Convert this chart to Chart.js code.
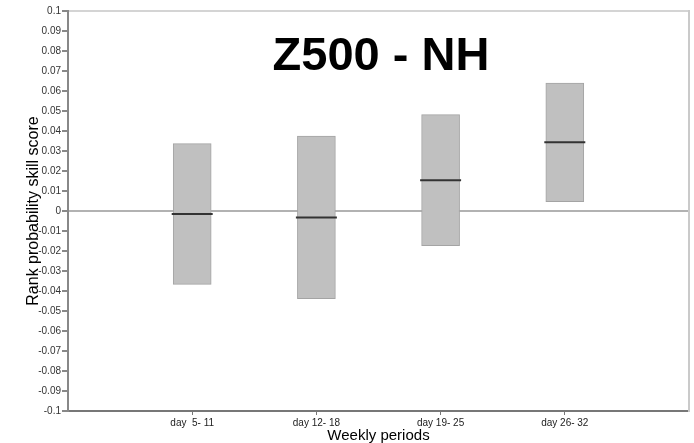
<!DOCTYPE html>
<html>
<head>
<meta charset="utf-8">
<script src="https://cdn.jsdelivr.net/npm/chart.js@4.4.1/dist/chart.umd.min.js"></script>
<style>
  body { margin: 0; background: #fff; }
  canvas { display: block; }
</style>
</head>
<body>
<canvas id="rpss" width="694" height="443"></canvas>
<script>
// weekly periods and skill score ranges
var categories = ['day  5- 11', 'day 12- 18', 'day 19- 25', 'day 26- 32'];
var lowValues = [-0.0367, -0.0438, -0.0173, 0.0047];
var highValues = [0.0337, 0.0375, 0.0482, 0.0639];
var meanValues = [-0.0015, -0.0032, 0.0154, 0.0344];
var yMin = -0.1, yMax = 0.1, yStep = 0.01;

Chart.defaults.font.family = '"Liberation Sans", Arial, sans-serif';

var boxes = categories.map(function (c, i) {
    return { x: i + 1, y: [lowValues[i], highValues[i]] };
});
var means = categories.map(function (c, i) {
    return { x: i + 1, y: meanValues[i] };
});

// big title inside the plot
var titlePlugin = {
    id: 'bigTitle',
    afterDraw: function (chart) {
        var ctx = chart.ctx;
        ctx.save();
        ctx.font = 'bold 47px "Liberation Sans", Arial, sans-serif';
        ctx.fillStyle = '#000';
        ctx.textAlign = 'center';
        ctx.textBaseline = 'alphabetic';
        ctx.fillText('Z500 - NH', 381, 70);
        ctx.restore();
    }
};

var config = {
    type: 'bar',
    data: {
        datasets: [{
            type: 'line',
            data: means,
            showLine: false,
            pointStyle: 'line',
            pointRadius: 20.5,
            pointBorderWidth: 2,
            pointBorderColor: '#333',
            order: 0
        }, {
            type: 'bar',
            data: boxes,
            backgroundColor: '#c0c0c0',
            borderColor: '#a4a4a4',
            borderWidth: 1,
            borderSkipped: false,
            barThickness: 38,
            order: 1
        }]
    },
    options: {
        responsive: false,
        animation: false,
        layout: { autoPadding: false, padding: { top: 11, right: 5, left: 0, bottom: 0 } },
        plugins: { legend: { display: false }, tooltip: { enabled: false } },
        scales: {
            x: {
                type: 'linear',
                min: 0,
                max: 5,
                offset: false,
                afterBuildTicks: function (axis) {
                    axis.ticks = categories.map(function (c, i) { return { value: i + 1 }; });
                },
                afterFit: function (s) {
                    s.height = 32;
                    s.paddingLeft = 0;
                    s.paddingRight = 0;
                },
                ticks: {
                    autoSkip: false,
                    maxRotation: 0,
                    padding: 2,
                    color: '#222',
                    font: { size: 10 },
                    callback: function (v, i) { return categories[i]; }
                },
                grid: { offset: false, drawOnChartArea: false, tickLength: 4, color: '#777' },
                border: { color: '#777', width: 2 },
                title: {
                    display: true,
                    text: 'Weekly periods',
                    color: '#000',
                    font: { size: 15, lineHeight: 1 },
                    padding: { top: 0, bottom: 0 }
                }
            },
            y: {
                min: yMin,
                max: yMax,
                z: 1,
                afterFit: function (s) {
                    s.width = 68;
                    s.paddingTop = 0;
                    s.paddingBottom = 0;
                },
                ticks: {
                    stepSize: yStep,
                    autoSkip: false,
                    padding: 1,
                    color: '#333',
                    font: { size: 10 },
                    callback: function (v) { return parseFloat(v.toFixed(2)).toString(); }
                },
                grid: {
                    tickLength: 6,
                    tickColor: '#888',
                    lineWidth: 2,
                    color: function (ctx) {
                        var v = ctx.tick ? ctx.tick.value : null;
                        if (v === null) return 'rgba(0,0,0,0)';
                        if (Math.abs(v) < 1e-9) return 'rgba(0,0,0,0.3)';
                        if (Math.abs(v - yMax) < 1e-9) return '#d4d4d4';
                        return 'rgba(0,0,0,0)';
                    }
                },
                border: { color: '#888', width: 2 },
                title: {
                    display: true,
                    text: 'Rank probability skill score',
                    color: '#000',
                    font: { size: 16, lineHeight: 1 },
                    padding: { top: 26, bottom: 0 }
                }
            },
            yr: {
                position: 'right',
                min: yMin,
                max: yMax,
                afterFit: function (s) {
                    s.width = 0;
                    s.paddingTop = 0;
                    s.paddingBottom = 0;
                },
                ticks: { display: false },
                grid: { display: false },
                border: { color: '#cacaca', width: 2 }
            }
        }
    },
    plugins: [titlePlugin]
};

window.onload = function () {
    var ctx = document.getElementById('rpss').getContext('2d');
    window.rpssChart = new Chart(ctx, config);
};
</script>
</body>
</html>
